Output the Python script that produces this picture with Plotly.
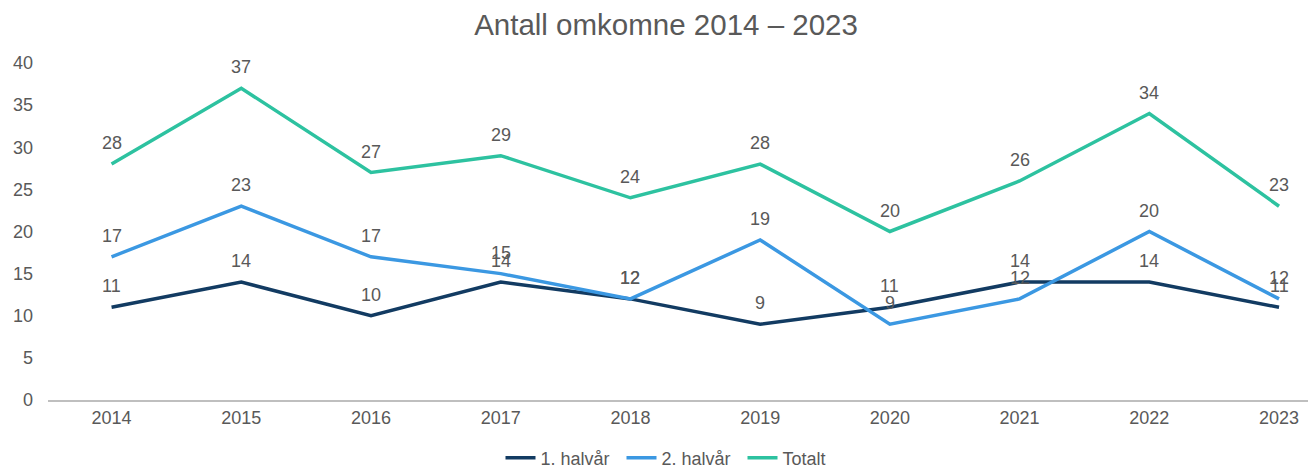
import plotly.graph_objects as go

years = ["2014", "2015", "2016", "2017", "2018", "2019", "2020", "2021", "2022", "2023"]
first_half = [11, 14, 10, 14, 12, 9, 11, 14, 14, 11]
second_half = [17, 23, 17, 15, 12, 19, 9, 12, 20, 12]
total = [28, 37, 27, 29, 24, 28, 20, 26, 34, 23]

series = [
    ("1. halvår", first_half, "#123B62"),
    ("2. halvår", second_half, "#3B98E2"),
    ("Totalt", total, "#2DC2A0"),
]

FONT = "Liberation Sans, Arial, sans-serif"
GREY = "#595959"

W, H = 1308, 460  # page has 8px body margin

fig = go.Figure()
annotations = []
for name, vals, color in series:
    fig.add_trace(go.Scatter(
        x=years, y=vals, name=name, mode="lines",
        line=dict(color=color, width=3.5),
        hoverinfo="x+y+name",
    ))
    for i, yv in enumerate(vals):
        annotations.append(dict(
            x=i, y=yv, xref="x", yref="y", text=str(yv), showarrow=False,
            yshift=21, yanchor="middle", xanchor="center",
            font=dict(family=FONT, size=18, color=GREY),
        ))

fig.update_layout(
    width=W, height=H,
    margin=dict(l=40, r=0, t=55, b=68, autoexpand=False),
    paper_bgcolor="white", plot_bgcolor="white",
    title=dict(text="Antall omkomne 2014 – 2023", x=0.4874, xref="paper", xanchor="center",
               y=1 - 17 / H, yanchor="middle",
               font=dict(family=FONT, size=29.5, color=GREY)),
    annotations=annotations,
    showlegend=True,
    legend=dict(orientation="h", x=0.5, xanchor="center", y=-0.172, yanchor="middle",
                font=dict(family=FONT, size=18, color=GREY),
                itemwidth=30, tracegroupgap=0, entrywidth=76, entrywidthmode="pixels"),
    xaxis=dict(type="category", range=[-0.49, 9.285], showgrid=False,
               showline=True, linecolor="#BFBFBF", linewidth=2, ticks="",
               tickfont=dict(family=FONT, size=18, color=GREY), zeroline=False),
    yaxis=dict(range=[0, 40], dtick=5, showgrid=False, showline=False, zeroline=False,
               ticks="", ticklabelstandoff=14,
               tickfont=dict(family=FONT, size=18, color=GREY)),
)

fig.write_html("out.html")
